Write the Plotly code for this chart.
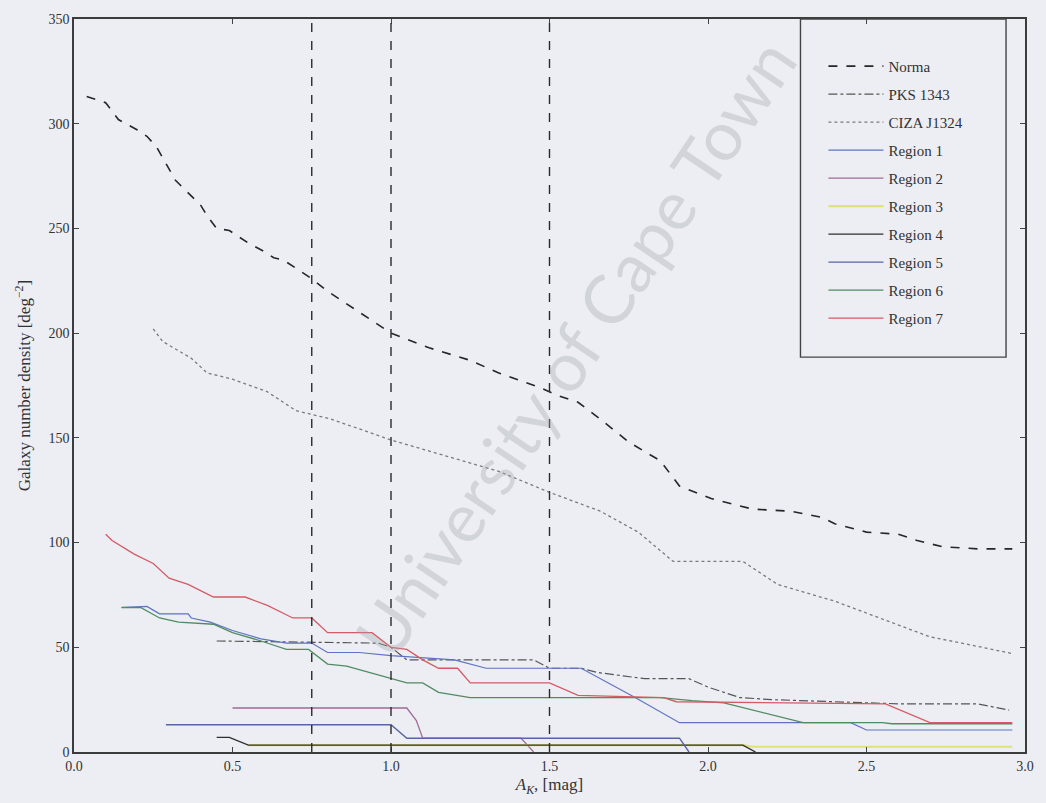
import plotly.graph_objects as go

# Extinction A_K [mag] versus galaxy number density [deg^-2]
norma_x = [0.04, 0.10, 0.14, 0.20, 0.23, 0.26, 0.29, 0.32, 0.36, 0.40, 0.42, 0.45, 0.49, 0.52,
           0.55, 0.60, 0.63, 0.66, 0.71, 0.75, 0.80, 0.90, 1.00, 1.12, 1.25, 1.34, 1.47, 1.53,
           1.59, 1.66, 1.75, 1.85, 1.91, 2.01, 2.14, 2.26, 2.36, 2.40, 2.50, 2.60, 2.66, 2.74,
           2.85, 2.96]
norma_y = [313, 310, 302, 297, 294, 289, 281, 273, 267, 261, 256, 250, 249, 246,
           243, 239, 236, 235, 230, 226, 220, 210, 200, 193, 187, 181, 174, 170,
           167, 159, 148, 139, 127, 121, 116, 115, 112, 109, 105, 104, 101, 98,
           97, 97]

pks_x = [0.45, 0.96, 1.00, 1.05, 1.45, 1.50, 1.60, 1.65, 1.80, 1.94, 2.00, 2.10, 2.20, 2.60,
         2.85, 2.95]
pks_y = [53, 52, 50, 44, 44, 40, 40, 38, 35, 35, 31, 26, 25, 23, 23, 20]

ciza_x = [0.25, 0.28, 0.37, 0.42, 0.50, 0.61, 0.70, 0.81, 1.00, 1.18, 1.34, 1.50, 1.66, 1.78,
          1.89, 2.11, 2.22, 2.40, 2.54, 2.70, 2.80, 2.96]
ciza_y = [202, 196, 188, 181, 178, 172, 163, 159, 149, 141, 134, 124, 115, 105,
          91, 91, 80, 72, 64, 55, 52, 47]

reg1_x = [0.15, 0.23, 0.27, 0.36, 0.37, 0.43, 0.50, 0.59, 0.67, 0.75, 0.80, 0.90, 1.00, 1.20,
          1.30, 1.60, 1.77, 1.91, 2.45, 2.50, 2.96]
reg1_y = [69, 69.5, 66, 66, 64, 62, 58, 54, 52, 52, 47.5, 47.5, 46, 44,
          40, 40, 26, 14, 14, 10.5, 10.5]

reg2_x = [0.50, 1.05, 1.08, 1.10, 1.41, 1.45]
reg2_y = [21, 21, 15, 6.6, 6.6, 0]

reg3_x = [0.55, 2.11, 2.14, 2.96]
reg3_y = [3.3, 3.3, 2.5, 2.5]

reg4_x = [0.45, 0.49, 0.55, 2.11, 2.15]
reg4_y = [7, 7, 3.3, 3.3, 0]

reg5_x = [0.29, 1.00, 1.05, 1.91, 1.94]
reg5_y = [13, 13, 6.6, 6.6, 0]

reg6_x = [0.15, 0.21, 0.27, 0.33, 0.44, 0.50, 0.59, 0.67, 0.74, 0.80, 0.86, 1.00, 1.05, 1.10,
          1.15, 1.25, 1.85, 1.95, 2.05, 2.30, 2.55, 2.58, 2.96]
reg6_y = [69, 69, 64, 62, 61, 57, 53, 49, 49, 42, 41, 35, 33, 33,
          28.5, 26, 26, 24.5, 23.5, 14, 14, 13.5, 13.5]

reg7_x = [0.10, 0.12, 0.19, 0.25, 0.30, 0.36, 0.44, 0.54, 0.61, 0.69, 0.75, 0.80, 0.94, 1.00,
          1.05, 1.10, 1.15, 1.21, 1.25, 1.50, 1.59, 1.86, 1.90, 2.56, 2.70, 2.96]
reg7_y = [104, 101, 94.5, 90, 83, 80, 74, 74, 70, 64, 64, 57, 57, 50,
          49, 44, 40, 40, 33, 33, 27, 26, 24, 23, 14, 14]

cut_lines = [0.75, 1.0, 1.5]

series = [
    ("Norma", norma_x, norma_y, "#262626", "dash", 1.6),
    ("PKS 1343", pks_x, pks_y, "#555555", "dashdot", 1.2),
    ("CIZA J1324", ciza_x, ciza_y, "#7a7a7a", "dot", 1.3),
    ("Region 1", reg1_x, reg1_y, "#5f72c4", "solid", 1.2),
    ("Region 2", reg2_x, reg2_y, "#a06a98", "solid", 1.3),
    ("Region 3", reg3_x, reg3_y, "#dfe27a", "solid", 2.2),
    ("Region 4", reg4_x, reg4_y, "#2e2e2e", "solid", 1.4),
    ("Region 5", reg5_x, reg5_y, "#5a62a8", "solid", 1.4),
    ("Region 6", reg6_x, reg6_y, "#4f8c62", "solid", 1.3),
    ("Region 7", reg7_x, reg7_y, "#d65a66", "solid", 1.3),
]

fig = go.Figure()
for i, (name, xs, ys, color, dash, width) in enumerate(series):
    fig.add_trace(go.Scatter(
        x=xs, y=ys, mode="lines", name=name, legendgroup=f"g{i}",
        line=dict(color=color, dash=dash, width=width),
    ))

for xv in cut_lines:
    fig.add_shape(type="line", xref="x", yref="paper", x0=xv, x1=xv, y0=0, y1=1,
                  line=dict(color="#2a2a2a", width=1.4, dash="dash"))

# legend frame
fig.add_shape(type="rect", xref="paper", yref="paper",
              x0=(802 - 74) / 953, x1=(1008 - 74) / 953, y0=(752 - 355) / 737, y1=1,
              line=dict(color="#444444", width=1.4), fillcolor="rgba(0,0,0,0)")

fig.add_annotation(
    text="University of Cape Town", xref="paper", yref="paper",
    x=(575 - 74) / 953, y=(752 - 345) / 737, showarrow=False, textangle=-56,
    font=dict(family="Lato, Open Sans, sans-serif", size=68, color="rgba(160,162,168,0.35)"),
)

axis_common = dict(
    showgrid=False, zeroline=False, showline=True, linecolor="#3c3c3c", linewidth=1.6,
    mirror="ticks", ticks="inside", ticklen=5, tickcolor="#444444", tickwidth=1,
    tickfont=dict(family="Liberation Serif, DejaVu Serif, serif", size=14, color="#333333"),
)

fig.update_xaxes(range=[0, 3], tickvals=[0, 0.5, 1, 1.5, 2, 2.5, 3],
                 ticktext=["0.0", "0.5", "1.0", "1.5", "2.0", "2.5", "3.0"],
                 title=dict(text="<i>A</i><sub><i>K</i></sub>, [mag]", standoff=6,
                            font=dict(family="Liberation Serif, DejaVu Serif, serif", size=17,
                                      color="#333333")),
                 **axis_common)
fig.update_yaxes(range=[0, 350], tickvals=[0, 50, 100, 150, 200, 250, 300, 350],
                 title=dict(text="Galaxy number density [deg<sup>−2</sup>]", standoff=13,
                            font=dict(family="Liberation Serif, DejaVu Serif, serif", size=17,
                                      color="#333333")),
                 **axis_common)

fig.update_layout(
    width=1046, height=803,
    margin=dict(l=74, r=19, t=15, b=51),
    paper_bgcolor="#eceef3", plot_bgcolor="#eceef3",
    showlegend=True,
    legend=dict(
        x=(825 - 74) / 953, y=(752 - 46) / 737, xanchor="left", yanchor="top",
        bgcolor="rgba(0,0,0,0)", borderwidth=0, itemwidth=55, tracegroupgap=5.5,
        font=dict(family="Liberation Serif, DejaVu Serif, serif", size=15, color="#333333"),
    ),
)

fig.write_html("out.html")
